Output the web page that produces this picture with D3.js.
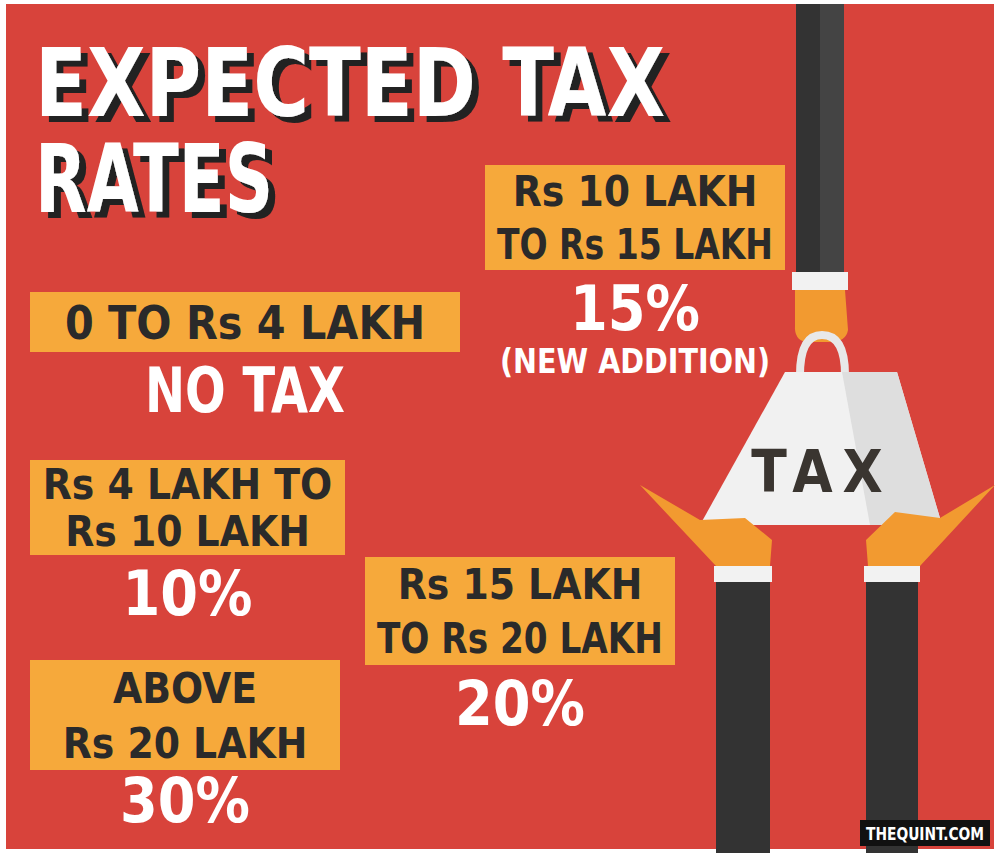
<!DOCTYPE html>
<html>
<head>
<meta charset="utf-8">
<script src="https://cdn.jsdelivr.net/npm/d3@7"></script>
<style>
  body { margin: 0; background: #fff; }
  svg { display: block; }
  text { font-family: "Liberation Sans Narrow", "DejaVu Sans Condensed", "Roboto", sans-serif; font-weight: bold; }
</style>
</head>
<body>
<div id="chart"></div>
<script>
// slab data
var brackets = [["Rs 10 LAKH", "TO Rs 15 LAKH"], ["0 TO Rs 4 LAKH"], ["Rs 4 LAKH TO", "Rs 10 LAKH"],
                ["Rs 15 LAKH", "TO Rs 20 LAKH"], ["ABOVE", "Rs 20 LAKH"]];
var rates = ["15%", "NO TAX", "10%", "20%", "30%"];
var notes = ["(NEW ADDITION)", "", "", "", ""];
var titleLines = ["EXPECTED TAX", "RATES"];

var W = 1000, H = 853;
var svg = d3.select("#chart").append("svg").attr("width", W).attr("height", H);

var defs = svg.append("defs");
defs.append("filter").attr("id", "shadow").attr("x", "-5%").attr("y", "-5%").attr("width", "115%").attr("height", "120%")
  .append("feDropShadow").attr("dx", 7).attr("dy", 6).attr("stdDeviation", 0).attr("flood-color", "#222").attr("flood-opacity", 1);

// fit a text into a width by squeezing glyphs
function fit(sel, maxW) {
  sel.each(function () {
    if (this.getComputedTextLength() > maxW) {
      d3.select(this).attr("textLength", maxW).attr("lengthAdjust", "spacingAndGlyphs");
    }
  });
}

// background
svg.append("rect").attr("width", W).attr("height", H).attr("fill", "#fff");
svg.append("rect").attr("x", 6).attr("y", 4).attr("width", W - 12).attr("height", H - 8).attr("fill", "#d8433b");

// box layout: x, y, w, h, rate baseline, note baseline
var layout = [
  { x: 485, y: 165, w: 300, h: 105, ry: 330, ny: 373 },
  { x: 30, y: 292, w: 430, h: 60, ry: 412 },
  { x: 30, y: 460, w: 315, h: 95, ry: 615 },
  { x: 365, y: 557, w: 310, h: 108, ry: 725 },
  { x: 30, y: 660, w: 310, h: 110, ry: 822 }
];

var slabs = svg.selectAll("g.slab").data(d3.range(brackets.length)).enter().append("g").attr("class", "slab");
slabs.append("rect")
  .attr("x", function (i) { return layout[i].x; })
  .attr("y", function (i) { return layout[i].y; })
  .attr("width", function (i) { return layout[i].w; })
  .attr("height", function (i) { return layout[i].h; })
  .attr("fill", "#f6a93b");
slabs.each(function (i) {
  var g = d3.select(this), L = layout[i], lines = brackets[i];
  var lh = L.h / lines.length;
  var fs = lines.length > 1 ? 42 : 46;
  lines.forEach(function (t, k) {
    g.append("text").attr("x", L.x + L.w / 2).attr("y", L.y + lh * (k + 0.5) + fs * 0.36)
      .attr("text-anchor", "middle").attr("font-size", fs).attr("fill", "#2a2a2a").text(t)
      .call(fit, L.w - 24);
  });
  g.append("text").attr("x", L.x + L.w / 2).attr("y", L.ry)
    .attr("text-anchor", "middle").attr("font-size", 62).attr("fill", "#fff").text(rates[i])
    .call(fit, i === 1 ? 200 : 130);
  if (notes[i]) {
    g.append("text").attr("x", L.x + L.w / 2).attr("y", L.ny)
      .attr("text-anchor", "middle").attr("font-size", 34).attr("fill", "#fff").text(notes[i])
      .call(fit, 270);
  }
});

// title with drop shadow
titleLines.forEach(function (t, k) {
  var y = k === 0 ? 116 : 212, len = k === 0 ? 630 : 238;
  svg.append("text").attr("x", 35).attr("y", y).attr("font-size", 94).attr("fill", "#fff")
    .attr("filter", "url(#shadow)")
    .attr("textLength", len).attr("lengthAdjust", "spacingAndGlyphs").text(t);
});

// illustration
var ill = svg.append("g");
ill.append("rect").attr("x", 796).attr("y", 4).attr("width", 48).attr("height", 272).attr("fill", "#333");
ill.append("rect").attr("x", 820).attr("y", 4).attr("width", 24).attr("height", 272).attr("fill", "#444");
ill.append("rect").attr("x", 792).attr("y", 272).attr("width", 56).attr("height", 18).attr("fill", "#f2f2f2");
ill.append("path").attr("d", "M795,290 L845,290 L848,330 Q846,342 830,342 L806,342 Q794,340 795,325 Z").attr("fill", "#f29a30");
ill.append("path").attr("d", "M800,375 Q800,335 822,335 Q845,335 845,375").attr("fill", "none").attr("stroke", "#e8e8e8").attr("stroke-width", 8);
ill.append("path").attr("d", "M785,372 L897,372 L942,525 L700,525 Z").attr("fill", "#f1f1f1");
ill.append("path").attr("d", "M842,372 L897,372 L942,525 L870,525 Z").attr("fill", "#dedede");
ill.append("text").attr("x", 822).attr("y", 492).attr("text-anchor", "middle").attr("font-size", 58)
  .attr("font-family", "DejaVu Sans").attr("letter-spacing", 10).attr("fill", "#3a3530").text("TAX");
// lower arms
ill.append("rect").attr("x", 716).attr("y", 572).attr("width", 54).attr("height", 285).attr("fill", "#333");
ill.append("rect").attr("x", 866).attr("y", 572).attr("width", 52).attr("height", 285).attr("fill", "#333");
ill.append("rect").attr("x", 714).attr("y", 566).attr("width", 58).attr("height", 16).attr("fill", "#f2f2f2");
ill.append("rect").attr("x", 864).attr("y", 566).attr("width", 56).attr("height", 16).attr("fill", "#f2f2f2");
ill.append("path").attr("d", "M640,485 L700,520 L745,518 L772,540 L770,566 L716,566 Z").attr("fill", "#f29a30");
ill.append("path").attr("d", "M995,485 L940,518 L895,512 L866,540 L868,566 L920,566 Z").attr("fill", "#f29a30");

// credit
svg.append("rect").attr("x", 860).attr("y", 820).attr("width", 130).attr("height", 26).attr("fill", "#111");
svg.append("text").attr("x", 925).attr("y", 840).attr("text-anchor", "middle").attr("font-size", 17)
  .attr("fill", "#fff").text("THEQUINT.COM").call(fit, 118);
</script>
</body>
</html>
